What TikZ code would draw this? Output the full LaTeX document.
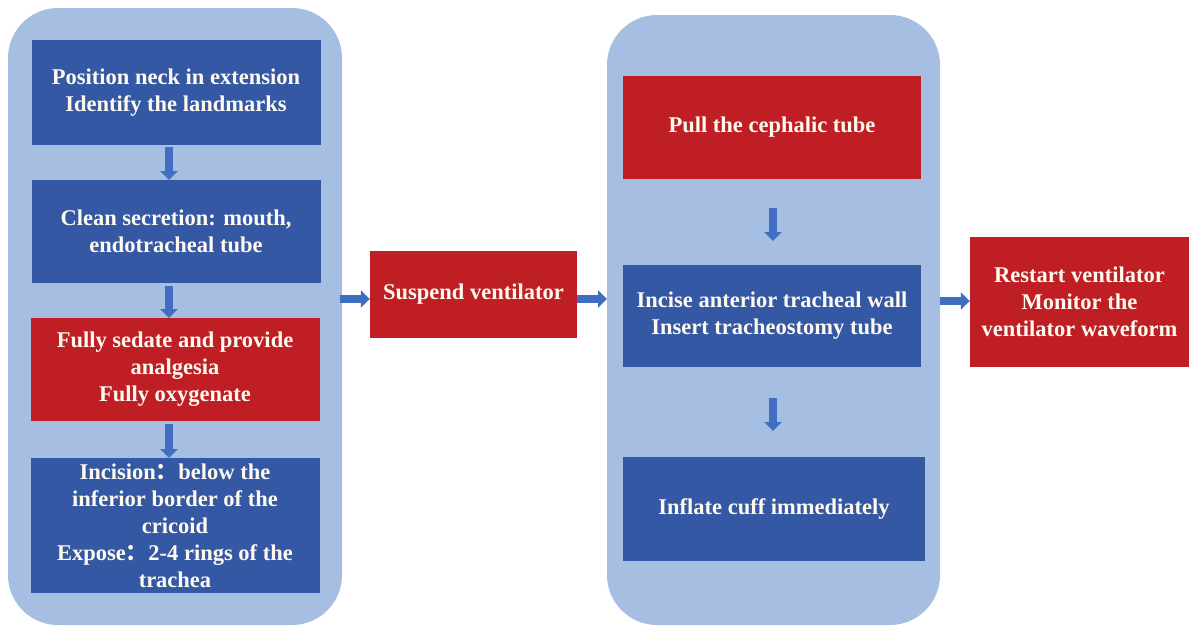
\documentclass[tikz,border=0pt]{standalone}
\usepackage{fontspec}
\setmainfont{Liberation Serif}
\newfontfamily\cjk{Noto Sans CJK SC}
\usetikzlibrary{arrows.meta}
\definecolor{panelblue}{RGB}{166,190,225}
\definecolor{boxblue}{RGB}{52,88,164}
\definecolor{boxred}{RGB}{190,30,36}
\definecolor{arrowblue}{RGB}{64,110,192}
\definecolor{txt}{RGB}{255,250,240}
\tikzset{
  panel/.style={fill=panelblue, draw=none, rounded corners=50pt},
  stepbox/.style={draw=none, rectangle, inner sep=0pt, align=center, text=txt,
    font=\fontsize{22.5}{27}\selectfont\bfseries},
  bluebox/.style={stepbox, fill=boxblue},
  redbox/.style={stepbox, fill=boxred},
  flow/.style={draw=arrowblue, line width=8pt, -{Triangle[width=17pt,length=9pt]}},
}
\begin{document}
\begin{tikzpicture}[x=1pt,y=-1pt]
\useasboundingbox (0,0) rectangle (1189,627);
\fill[white] (0,0) rectangle (1189,627);
% panels
\path[panel] (8,8) rectangle (342,625);
\path[panel] (607,15) rectangle (940,625);
% left column
\node[bluebox, minimum width=289pt, minimum height=105pt] (b1) at (176,92.5)
  {Position neck in extension\\Identify the landmarks};
\node[bluebox, minimum width=289pt, minimum height=103pt] (b2) at (176,231.5)
  {Clean secretion: mouth,\\endotracheal tube};
\node[redbox, minimum width=289pt, minimum height=103pt] (b3) at (175,369.5)
  {Fully sedate and provide\\analgesia\\Fully oxygenate};
\node[bluebox, minimum width=289pt, minimum height=135pt] (b4) at (175,525.5)
  {Incision{\cjk ：}below the\\inferior border of the\\cricoid\\Expose{\cjk ：}2-4 rings of the\\trachea};
% middle
\node[redbox, minimum width=207pt, minimum height=87pt] (sv) at (473.5,294.5)
  {Suspend ventilator};
% right column
\node[redbox, minimum width=298pt, minimum height=103pt] (p1) at (772,127.5)
  {Pull the cephalic tube};
\node[bluebox, minimum width=298pt, minimum height=102pt] (p2) at (772,316)
  {Incise anterior tracheal wall\\Insert tracheostomy tube};
\node[bluebox, minimum width=302pt, minimum height=104pt] (p3) at (774,509)
  {Inflate cuff immediately};
% far right
\node[redbox, minimum width=219pt, minimum height=130pt] (rs) at (1079.5,302)
  {Restart ventilator\\Monitor the\\ventilator waveform};
% vertical arrows
\coordinate (a1s) at (169,147); \coordinate (a1e) at (169,180);
\coordinate (a2s) at (169,286); \coordinate (a2e) at (169,318);
\coordinate (a3s) at (169,424); \coordinate (a3e) at (169,458);
\coordinate (a4s) at (773,208); \coordinate (a4e) at (773,241);
\coordinate (a5s) at (773,398); \coordinate (a5e) at (773,431);
\draw[flow] (a1s) -- (a1e);
\draw[flow] (a2s) -- (a2e);
\draw[flow] (a3s) -- (a3e);
\draw[flow] (a4s) -- (a4e);
\draw[flow] (a5s) -- (a5e);
% horizontal arrows
\coordinate (h1s) at (340,299);
\draw[flow] (h1s) -- (sv.west |- h1s);
\coordinate (h2e) at (607,299);
\draw[flow] (sv.east |- h2e) -- (h2e);
\coordinate (h3s) at (940,301);
\draw[flow] (h3s) -- (rs.west |- h3s);
\end{tikzpicture}
\end{document}
